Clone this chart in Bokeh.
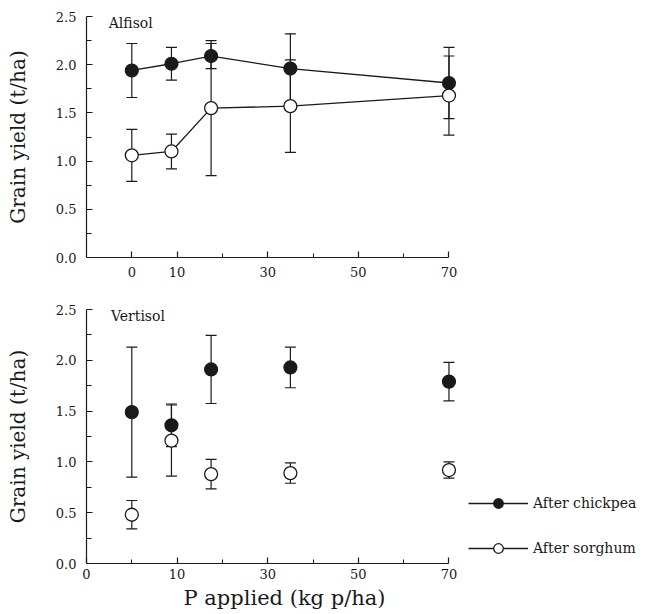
from bokeh.plotting import figure
from bokeh.models import (Range1d, FixedTicker, Whisker, TeeHead, ColumnDataSource,
                          Legend, LegendItem, Label, Title, PrintfTickFormatter)
from bokeh.layouts import column
from bokeh.embed import file_html
from bokeh.resources import INLINE

# P applied (kg P/ha)
p_rates = [0, 8.75, 17.5, 35, 70]

# Alfisol
alf_chickpea = [1.94, 2.01, 2.09, 1.96, 1.81]
alf_chickpea_err = [0.28, 0.17, 0.13, 0.36, 0.37]
alf_sorghum = [1.06, 1.10, 1.55, 1.57, 1.68]
alf_sorghum_err = [0.27, 0.18, 0.70, 0.48, 0.41]

# Vertisol
ver_chickpea = [1.49, 1.36, 1.91, 1.93, 1.79]
ver_chickpea_err = [0.64, 0.21, 0.335, 0.20, 0.19]
ver_sorghum = [0.48, 1.21, 0.88, 0.89, 0.92]
ver_sorghum_err = [0.14, 0.35, 0.145, 0.10, 0.08]

y_ticks = [0.0, 0.5, 1.0, 1.5, 2.0, 2.5]
y_minor = [0.25, 0.75, 1.25, 1.75, 2.25]

Y_TITLE = "Grain yield (t/ha)"
X_TITLE = "P applied (kg p/ha)"

INK = "#1a1a1a"
SERIF = "DejaVu Serif"


def make_fig(height, top, bottom):
    p = figure(width=646, height=height, output_backend="svg", toolbar_location=None,
               x_range=Range1d(-10, 113.6), y_range=Range1d(0, 2.5),
               min_border_left=86, min_border_right=0,
               min_border_top=top, min_border_bottom=bottom)
    p.outline_line_color = None
    p.xgrid.visible = False
    p.ygrid.visible = False
    p.background_fill_color = "white"
    for ax in (p.xaxis[0], p.yaxis[0]):
        ax.axis_line_color = INK
        ax.axis_line_width = 1.2
        ax.major_tick_line_color = INK
        ax.minor_tick_line_color = INK
        ax.major_tick_line_width = 1.2
        ax.minor_tick_line_width = 1.0
        ax.major_tick_out = 0
        ax.minor_tick_out = 0
        ax.major_label_text_font = SERIF
        ax.major_label_text_font_size = "13px"
        ax.major_label_text_color = INK
        ax.axis_label_text_font = SERIF
        ax.axis_label_text_font_size = "20px"
        ax.axis_label_text_font_style = "normal"
        ax.axis_label_text_color = INK
    p.xaxis.bounds = (-10, 70)
    p.yaxis.ticker = FixedTicker(ticks=y_ticks, minor_ticks=y_minor)
    p.yaxis.formatter = PrintfTickFormatter(format="%.1f")
    p.yaxis.major_tick_in = 6
    p.yaxis.minor_tick_in = 5
    p.yaxis.major_label_standoff = 10
    p.yaxis.axis_label = Y_TITLE
    p.yaxis.axis_label_standoff = 23
    p.xaxis.major_tick_in = 6
    p.xaxis.minor_tick_in = 4
    return p


def add_bars(p, vals, errs):
    src = ColumnDataSource(dict(x=p_rates,
                                lo=[v - e for v, e in zip(vals, errs)],
                                hi=[v + e for v, e in zip(vals, errs)]))
    w = Whisker(source=src, base="x", upper="hi", lower="lo", dimension="height",
                line_color=INK, line_width=1.2,
                upper_head=TeeHead(size=11, line_color=INK, line_width=1.2),
                lower_head=TeeHead(size=11, line_color=INK, line_width=1.2))
    p.add_layout(w)


# ---------- Alfisol ----------
p1 = make_fig(297, 16, 40)
p1.xaxis.ticker = FixedTicker(ticks=[0, 10, 30, 50, 70], minor_ticks=[20, 40, 60])
p1.xaxis.major_label_standoff = 9

add_bars(p1, alf_chickpea, alf_chickpea_err)
add_bars(p1, alf_sorghum, alf_sorghum_err)
p1.line(p_rates, alf_chickpea, line_color=INK, line_width=1.3)
p1.line(p_rates, alf_sorghum, line_color=INK, line_width=1.3)
p1.scatter(p_rates, alf_chickpea, size=13, marker="circle", fill_color=INK, line_color=INK, line_width=1.2)
p1.scatter(p_rates, alf_sorghum, size=13, marker="circle", fill_color="white", line_color=INK, line_width=1.3)
p1.add_layout(Label(x=-5.1, y=2.43, text="Alfisol", text_font=SERIF, text_font_size="14px",
                    text_color=INK, text_baseline="middle"))

# ---------- Vertisol ----------
p2 = make_fig(317, 12, 51)
p2.xaxis.ticker = FixedTicker(ticks=[-10, 10, 30, 50, 70], minor_ticks=[0, 20, 40, 60])
p2.xaxis.major_label_overrides = {-10: "0"}
p2.xaxis.major_label_standoff = 5

xt = Title(text=X_TITLE, align="left", offset=97, text_font=SERIF, text_font_size="21px",
           text_font_style="normal", text_color=INK)
if "standoff" in Title.properties():
    xt.standoff = 5
p2.add_layout(xt, "below")

add_bars(p2, ver_chickpea, ver_chickpea_err)
add_bars(p2, ver_sorghum, ver_sorghum_err)
lc = p2.line(p_rates, ver_chickpea, line_color=INK, line_width=1.3, visible=False)
ls = p2.line(p_rates, ver_sorghum, line_color=INK, line_width=1.3, visible=False)
sc = p2.scatter(p_rates, ver_chickpea, size=13, marker="circle", fill_color=INK, line_color=INK, line_width=1.2)
ss = p2.scatter(p_rates, ver_sorghum, size=13, marker="circle", fill_color="white", line_color=INK, line_width=1.3)
p2.add_layout(Label(x=-4.6, y=2.44, text="Vertisol", text_font=SERIF, text_font_size="14px",
                    text_color=INK, text_baseline="middle"))

legend = Legend(items=[LegendItem(label="After chickpea", renderers=[lc, sc]),
                       LegendItem(label="After sorghum", renderers=[ls, ss])],
                location=(382, 3), orientation="vertical",
                glyph_width=60, glyph_height=24, label_height=24, spacing=21,
                padding=0, margin=0, label_standoff=5,
                label_text_font=SERIF, label_text_font_size="14px", label_text_color=INK,
                border_line_color=None, background_fill_alpha=0)
p2.add_layout(legend)

layout = column(p1, p2, spacing=0)
open("out.html", "w").write(file_html(layout, INLINE))
